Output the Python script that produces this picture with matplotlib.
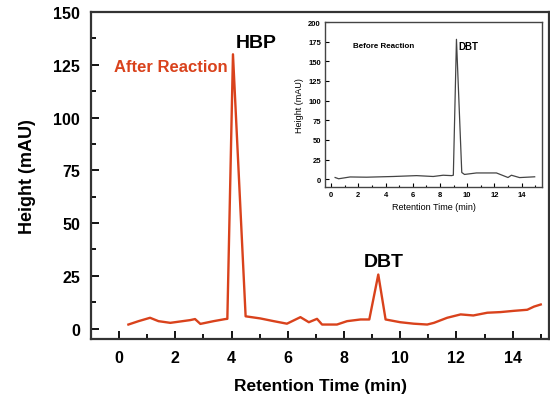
import numpy as np
import matplotlib.pyplot as plt
from matplotlib.ticker import MultipleLocator

plt.rcParams['font.family'] = ['Liberation Sans', 'DejaVu Sans']
plt.rcParams['font.weight'] = 'bold'

# после реакции (основной график)
t_after = [0.33, 0.69, 1.1, 1.4, 1.82, 2.53, 2.7, 2.89, 3.36, 3.78, 3.85,
           4.05, 4.5, 5.02, 5.5, 5.97, 6.45, 6.75, 7.04, 7.22, 7.75, 8.11,
           8.59, 8.9, 9.22, 9.48, 10.0, 10.48, 10.96, 11.2, 11.67, 12.15,
           12.6, 13.1, 13.57, 14.05, 14.52, 14.76, 15.0]
h_after = [1.9, 3.5, 5.1, 3.5, 2.7, 4.0, 4.5, 2.2, 3.5, 4.5, 4.6,
           130.0, 5.8, 4.8, 3.5, 2.3, 5.4, 3.0, 4.6, 1.9, 1.9, 3.5,
           4.3, 4.3, 25.6, 4.3, 3.0, 2.3, 1.9, 2.7, 5.1, 6.7,
           6.2, 7.5, 7.8, 8.4, 8.9, 10.4, 11.4]

# до реакции (вставка)
t_before = [0.29, 0.55, 1.39, 2.6, 4.57, 6.28, 7.5, 8.23, 8.85, 8.98,
            9.21, 9.6, 9.8, 10.68, 12.15, 13.0, 13.25, 13.85, 14.96]
h_before = [2.1, 0.5, 2.8, 2.5, 3.4, 4.5, 3.4, 5.0, 4.5, 5.0,
            178.0, 8.5, 6.0, 7.9, 7.9, 2.1, 5.0, 2.0, 3.0]

red = '#d9421c'

fig = plt.figure(figsize=(5.5, 4.02), dpi=100)
ax = fig.add_axes([0.1655, 0.154, 0.833, 0.8134])
ax.plot(t_after, h_after, color=red, lw=1.7)
ax.set_xlim(-1, 15.3)
ax.set_ylim(-5, 150)
ax.xaxis.set_major_locator(MultipleLocator(2))
ax.xaxis.set_minor_locator(MultipleLocator(1))
ax.yaxis.set_major_locator(MultipleLocator(25))
ax.yaxis.set_minor_locator(MultipleLocator(12.5))
ax.tick_params(which='both', direction='in', labelsize=11.5, width=1.3, pad=8)
ax.tick_params(which='major', length=6)
ax.tick_params(which='minor', length=3.5)
for s in ax.spines.values():
    s.set_linewidth(1.6)
    s.set_color('#333333')
ax.set_xlabel('Retention Time (min)', fontsize=12.5, fontweight='bold', labelpad=9)
ax.set_ylabel('Height (mAU)', fontsize=13, fontweight='bold', labelpad=12)
ax.text(4.88, 135.5, 'HBP', fontsize=14, ha='center', va='center')
ax.text(3.85, 124.3, 'After Reaction', fontsize=12, ha='right', va='center', color=red)
ax.text(9.4, 31.8, 'DBT', fontsize=14, ha='center', va='center')

# вставка
ins = fig.add_axes([0.591, 0.5323, 0.3945, 0.4104])
ins.plot(t_before, h_before, color='#444444', lw=0.9)
ins.set_xlim(-0.45, 15.5)
ins.set_ylim(-10, 200)
ins.xaxis.set_major_locator(MultipleLocator(2))
ins.xaxis.set_minor_locator(MultipleLocator(1))
ins.yaxis.set_major_locator(MultipleLocator(25))
ins.tick_params(which='both', direction='in', labelsize=5.5, width=0.8, pad=3)
ins.tick_params(which='major', length=3)
ins.tick_params(which='minor', length=1.5)
for s in ins.spines.values():
    s.set_linewidth(1.0)
    s.set_color('#444444')
ins.set_xlabel('Retention Time (min)', fontsize=6.5, labelpad=3)
ins.set_ylabel('Height (mAU)', fontsize=6.5, labelpad=3)
ins.text(1.6, 170, 'Before Reaction', fontsize=5.8, va='center')
ins.text(9.35, 170, 'DBT', fontsize=7, va='center')

fig.savefig('out.png', dpi=100)
